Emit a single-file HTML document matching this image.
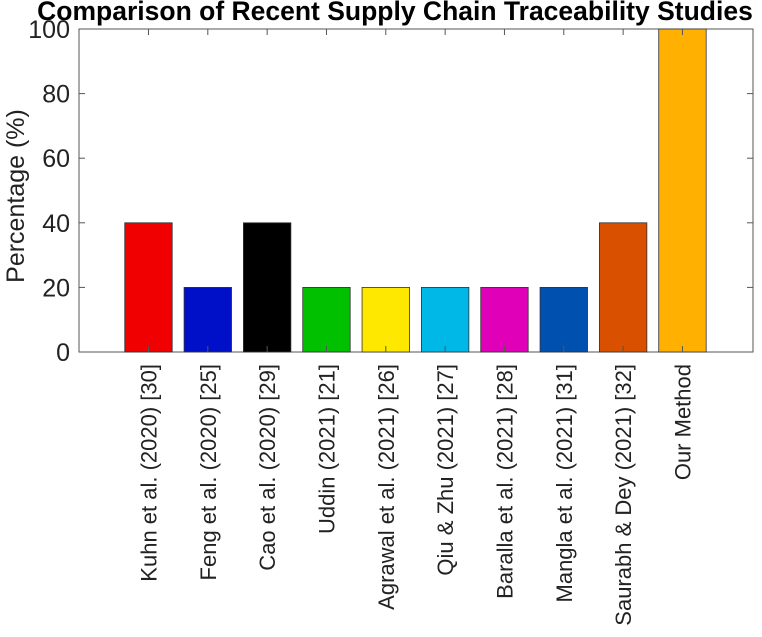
<!DOCTYPE html>
<html><head><meta charset="utf-8"><style>
body{margin:0;background:#fff}
svg{font-family:"Liberation Sans",Arial,sans-serif}
</style></head><body>
<svg width="762" height="632" id="c">
<text x="395" y="20" text-anchor="middle" font-weight="bold" font-size="26.5" fill="#000">Comparison of Recent Supply Chain Traceability Studies</text>
<text transform="translate(24,196) rotate(-90)" text-anchor="middle" font-size="25" fill="#222">Percentage (%)</text>
<g id="plot"></g>
</svg>
<script>
const categories=["Kuhn et al. (2020) [30]","Feng et al. (2020) [25]","Cao et al. (2020) [29]","Uddin (2021) [21]","Agrawal et al. (2021) [26]","Qiu & Zhu (2021) [27]","Baralla et al. (2021) [28]","Mangla et al. (2021) [31]","Saurabh & Dey (2021) [32]","Our Method"];
const values=[40,20,40,20,20,20,20,20,40,100];
const colors=["#f00000","#0010c8","#000000","#00c000","#ffe800","#00b8e8","#e000b8","#0050b0","#d85000","#ffb000"];
const yTicks=[0,20,40,60,80,100];
const L=79,R=753,T=29,B=352;
const xs=v=>L+(v+0.171)*(R-L)/11.36;
const ys=v=>B-(v/100)*(B-T);
const NS="http://www.w3.org/2000/svg";
const g=document.getElementById('plot');
function mk(t,a){const e=document.createElementNS(NS,t);for(const k in a)e.setAttribute(k,a[k]);g.appendChild(e);return e;}
const frame=mk('rect',{x:L,y:T,width:R-L,height:B-T,fill:'none',stroke:'#555','stroke-width':1});


values.forEach((v,i)=>{
  const cx=xs(i+1),w=0.8*(R-L)/11.36;
  const r=mk('rect',{x:cx-w/2,y:ys(v),width:w,height:ys(0)-ys(v),fill:colors[i],stroke:'#333','stroke-width':0.8});
  
  
  mk('line',{x1:cx,x2:cx,y1:B,y2:B-6,stroke:'#555'});
  mk('line',{x1:cx,x2:cx,y1:T,y2:T+6,stroke:'#555'});
  const t=mk('text',{transform:`translate(${cx+8},364) rotate(-90)`,'text-anchor':'end','font-size':22,fill:'#222'});
  t.textContent=categories[i];
  
  
});
yTicks.forEach(v=>{
  const y=ys(v);
  mk('line',{x1:L,x2:L+6,y1:y,y2:y,stroke:'#555'});
  mk('line',{x1:R,x2:R-6,y1:y,y2:y,stroke:'#555'});
  const t=mk('text',{x:70,y:y+9,'text-anchor':'end','font-size':25,fill:'#222'});
  t.textContent=v;
  
  
});
</script>
</body></html>
